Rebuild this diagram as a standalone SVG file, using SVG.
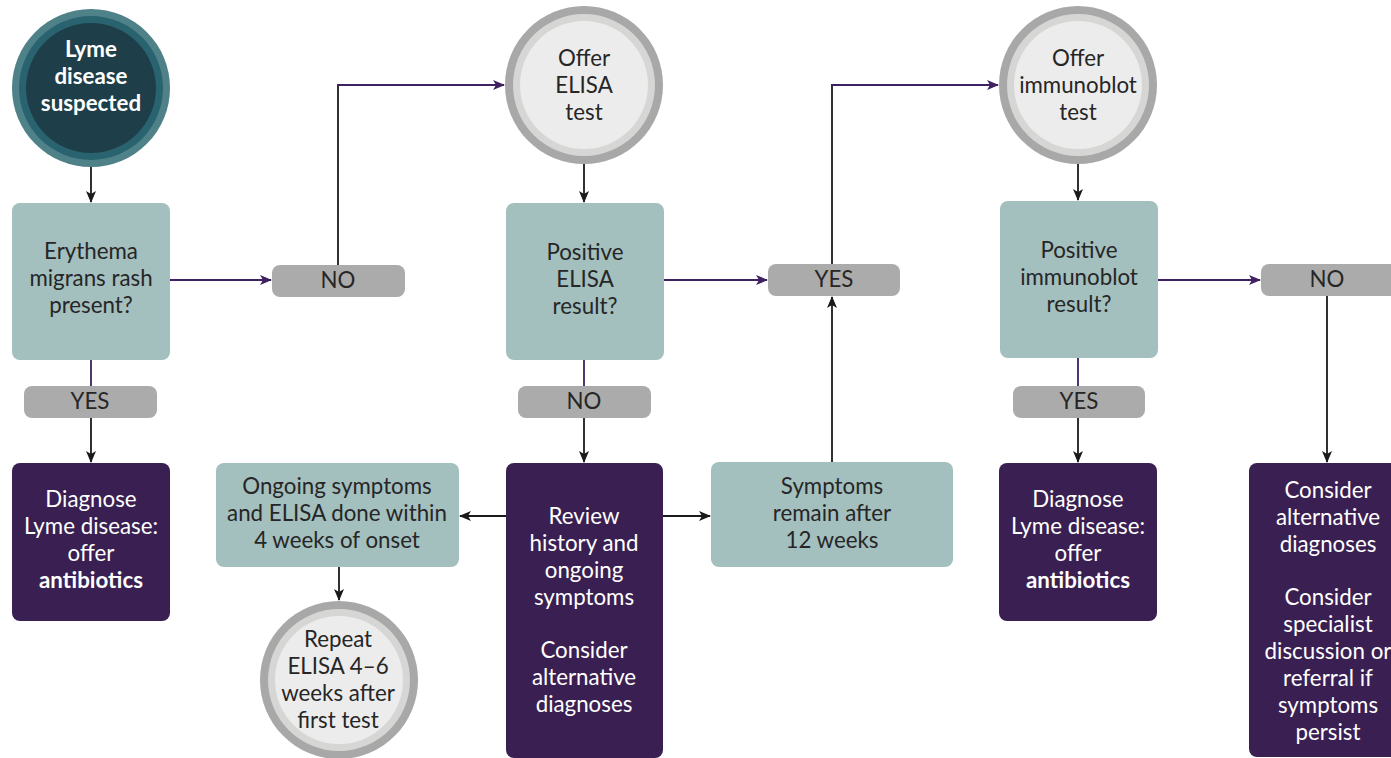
<svg xmlns="http://www.w3.org/2000/svg" width="1391" height="758" viewBox="0 0 1391 758">
<defs>
<style>
.t{font-family:Lato,"Open Sans","Liberation Sans",sans-serif;font-size:22.3px;fill:#262626;text-anchor:middle}
.w{fill:#ffffff}
.b{font-weight:bold}
.teal{fill:#a3bfbe}
.dark{fill:#3a2052}
.pill{fill:#acabab}
.lk{stroke:#1a1a1a;stroke-width:1.8;fill:none}
.lp{stroke:#3d2160;stroke-width:1.8;fill:none}
</style>
<marker id="ak" viewBox="0 0 12 10" refX="11" refY="5" markerWidth="12" markerHeight="10" markerUnits="userSpaceOnUse" orient="auto">
<path d="M0,0 L12,5 L0,10 L3,5 Z" fill="#1a1a1a"/>
</marker>
<marker id="ap" viewBox="0 0 12 10" refX="11" refY="5" markerWidth="12" markerHeight="10" markerUnits="userSpaceOnUse" orient="auto">
<path d="M0,0 L12,5 L0,10 L3,5 Z" fill="#3d2160"/>
</marker>
</defs>
<rect width="1391" height="758" fill="#ffffff"/>

<g id="connectors">
<path class="lk" d="M91,167 V202" marker-end="url(#ak)"/>
<path class="lp" d="M170,280 H271" marker-end="url(#ap)"/>
<path class="lk" d="M338,265 V85"/>
<path class="lp" d="M337,85 H504" marker-end="url(#ap)"/>
<path class="lp" d="M91,360 V386"/>
<path class="lk" d="M91,418 V462" marker-end="url(#ak)"/>
<path class="lk" d="M584,164 V202" marker-end="url(#ak)"/>
<path class="lp" d="M664,280 H767" marker-end="url(#ap)"/>
<path class="lk" d="M832,264 V85"/>
<path class="lp" d="M831,85 H998" marker-end="url(#ap)"/>
<path class="lp" d="M584,360 V386"/>
<path class="lk" d="M584,418 V462" marker-end="url(#ak)"/>
<path class="lk" d="M506,516 H460" marker-end="url(#ak)"/>
<path class="lk" d="M663,516 H710" marker-end="url(#ak)"/>
<path class="lk" d="M832,462 V297" marker-end="url(#ak)"/>
<path class="lk" d="M339,567 V600" marker-end="url(#ak)"/>
<path class="lk" d="M1078,164 V200" marker-end="url(#ak)"/>
<path class="lp" d="M1158,280 H1260" marker-end="url(#ap)"/>
<path class="lp" d="M1078,358 V386"/>
<path class="lk" d="M1078,418 V462" marker-end="url(#ak)"/>
<path class="lk" d="M1327,296 V462" marker-end="url(#ak)"/>
</g>

<g id="n-lyme">
<circle cx="91" cy="88" r="79" fill="#4f8188"/>
<circle cx="91" cy="88" r="72" fill="#2a6370"/>
<circle cx="91" cy="88" r="65" fill="#1e3f4a"/>
<text class="t w b"><tspan x="91" y="57">Lyme</tspan><tspan x="91" y="84">disease</tspan><tspan x="91" y="111">suspected</tspan></text>
</g>

<g id="n-erythema">
<rect class="teal" x="12" y="203" width="158" height="157" rx="8"/>
<text class="t"><tspan x="91" y="259">Erythema</tspan><tspan x="91" y="286">migrans rash</tspan><tspan x="91" y="313">present?</tspan></text>
</g>

<g id="n-no1">
<rect class="pill" x="272" y="265" width="133" height="32" rx="8"/>
<text class="t" x="338" y="288">NO</text>
</g>

<g id="n-yes1">
<rect class="pill" x="24" y="386" width="133" height="32" rx="8"/>
<text class="t" x="90" y="409">YES</text>
</g>

<g id="n-diag1">
<rect class="dark" x="12" y="463" width="158" height="158" rx="8"/>
<text class="t w"><tspan x="91" y="507">Diagnose</tspan><tspan x="91" y="534">Lyme disease:</tspan><tspan x="91" y="561">offer</tspan><tspan x="91" y="588" class="b">antibiotics</tspan></text>
</g>

<g id="n-elisa">
<circle cx="584" cy="85" r="79" fill="#a8a8a8"/>
<circle cx="584" cy="85" r="71" fill="#d6d6d5"/>
<circle cx="584" cy="85" r="64" fill="#ececec"/>
<text class="t"><tspan x="584" y="66">Offer</tspan><tspan x="584" y="93">ELISA</tspan><tspan x="584" y="120">test</tspan></text>
</g>

<g id="n-posel">
<rect class="teal" x="506" y="203" width="158" height="157" rx="8"/>
<text class="t"><tspan x="585" y="260">Positive</tspan><tspan x="585" y="287">ELISA</tspan><tspan x="585" y="314">result?</tspan></text>
</g>

<g id="n-yes2">
<rect class="pill" x="768" y="264" width="132" height="32" rx="8"/>
<text class="t" x="834" y="287">YES</text>
</g>

<g id="n-no2">
<rect class="pill" x="518" y="386" width="133" height="32" rx="8"/>
<text class="t" x="584" y="409">NO</text>
</g>

<g id="n-review">
<rect class="dark" x="506" y="463" width="157" height="295" rx="8"/>
<text class="t w"><tspan x="584" y="524">Review</tspan><tspan x="584" y="551">history and</tspan><tspan x="584" y="578">ongoing</tspan><tspan x="584" y="605">symptoms</tspan><tspan x="584" y="658">Consider</tspan><tspan x="584" y="685">alternative</tspan><tspan x="584" y="712">diagnoses</tspan></text>
</g>

<g id="n-ongoing">
<rect class="teal" x="216" y="463" width="243" height="104" rx="8"/>
<text class="t"><tspan x="337" y="494">Ongoing symptoms</tspan><tspan x="337" y="521">and ELISA done within</tspan><tspan x="337" y="548">4 weeks of onset</tspan></text>
</g>

<g id="n-repeat">
<circle cx="339" cy="680" r="79" fill="#a8a8a8"/>
<circle cx="339" cy="680" r="71" fill="#d6d6d5"/>
<circle cx="339" cy="680" r="64" fill="#ececec"/>
<text class="t"><tspan x="338" y="647">Repeat</tspan><tspan x="338" y="674">ELISA 4–6</tspan><tspan x="338" y="701">weeks after</tspan><tspan x="338" y="728">first test</tspan></text>
</g>

<g id="n-remain">
<rect class="teal" x="711" y="462" width="242" height="105" rx="8"/>
<text class="t"><tspan x="832" y="494">Symptoms</tspan><tspan x="832" y="521">remain after</tspan><tspan x="832" y="548">12 weeks</tspan></text>
</g>

<g id="n-immuno">
<circle cx="1078" cy="85" r="79" fill="#a8a8a8"/>
<circle cx="1078" cy="85" r="71" fill="#d6d6d5"/>
<circle cx="1078" cy="85" r="64" fill="#ececec"/>
<text class="t"><tspan x="1078" y="66">Offer</tspan><tspan x="1078" y="93">immunoblot</tspan><tspan x="1078" y="120">test</tspan></text>
</g>

<g id="n-posim">
<rect class="teal" x="1000" y="201" width="158" height="157" rx="8"/>
<text class="t"><tspan x="1079" y="258">Positive</tspan><tspan x="1079" y="285">immunoblot</tspan><tspan x="1079" y="312">result?</tspan></text>
</g>

<g id="n-no3">
<rect class="pill" x="1261" y="264" width="140" height="32" rx="8"/>
<text class="t" x="1327" y="287">NO</text>
</g>

<g id="n-yes3">
<rect class="pill" x="1013" y="386" width="132" height="32" rx="8"/>
<text class="t" x="1079" y="409">YES</text>
</g>

<g id="n-diag2">
<rect class="dark" x="999" y="463" width="158" height="158" rx="8"/>
<text class="t w"><tspan x="1078" y="507">Diagnose</tspan><tspan x="1078" y="534">Lyme disease:</tspan><tspan x="1078" y="561">offer</tspan><tspan x="1078" y="588" class="b">antibiotics</tspan></text>
</g>

<g id="n-consider">
<rect class="dark" x="1249" y="463" width="158" height="294" rx="8"/>
<text class="t w"><tspan x="1328" y="498">Consider</tspan><tspan x="1328" y="525">alternative</tspan><tspan x="1328" y="552">diagnoses</tspan><tspan x="1328" y="605">Consider</tspan><tspan x="1328" y="632">specialist</tspan><tspan x="1328" y="659">discussion or</tspan><tspan x="1328" y="686">referral if</tspan><tspan x="1328" y="713">symptoms</tspan><tspan x="1328" y="740">persist</tspan></text>
</g>
</svg>
